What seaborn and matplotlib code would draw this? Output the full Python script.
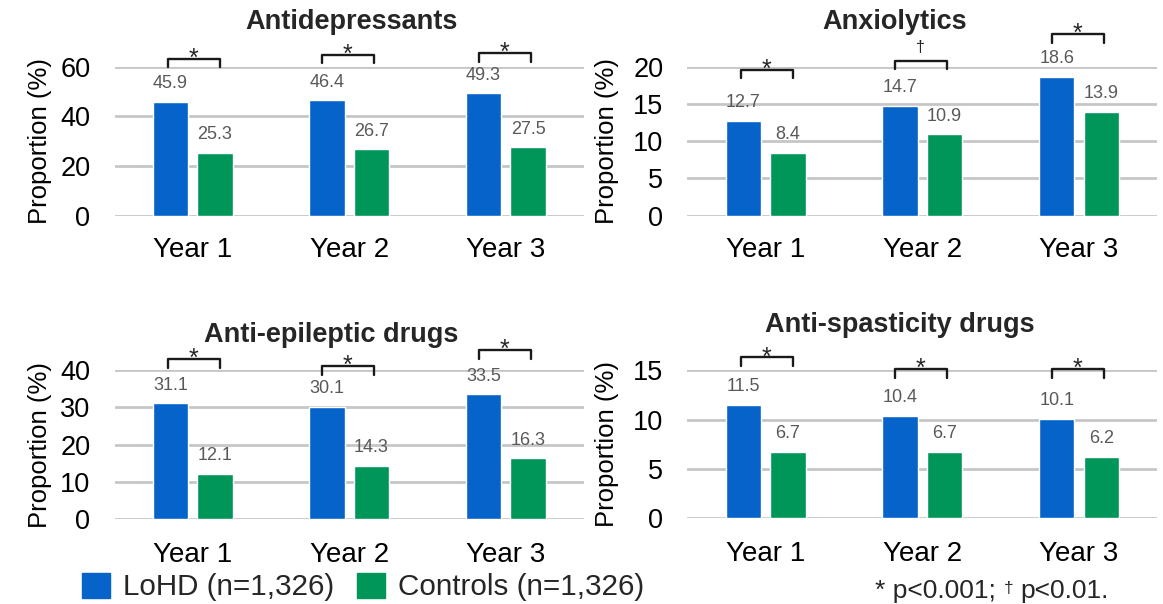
import numpy as np
import pandas as pd
import seaborn as sns
import matplotlib.pyplot as plt
import matplotlib.patches as mpatches

# data
years = ['Year 1', 'Year 2', 'Year 3']
groups = ['LoHD (n=1,326)', 'Controls (n=1,326)']
titles = ['Antidepressants', 'Anxiolytics', 'Anti-epileptic drugs', 'Anti-spasticity drugs']

lohd_antidep = [45.9, 46.4, 49.3]
ctrl_antidep = [25.3, 26.7, 27.5]
lohd_anx = [12.7, 14.7, 18.6]
ctrl_anx = [8.4, 10.9, 13.9]
lohd_epi = [31.1, 30.1, 33.5]
ctrl_epi = [12.1, 14.3, 16.3]
lohd_spas = [11.5, 10.4, 10.1]
ctrl_spas = [6.7, 6.7, 6.2]

sig_antidep = ['*', '*', '*']
sig_anx = ['*', '\u2020', '*']
sig_epi = ['*', '*', '*']
sig_spas = ['*', '*', '*']

y_max = [60, 20, 40, 15]
y_step = [20, 5, 10, 5]

# height of significance brackets (data units)
bracket_antidep = [63.2, 64.8, 65.4]
bracket_anx = [19.6, 20.8, 24.4]
bracket_epi = [43.0, 41.2, 45.5]
bracket_spas = [16.3, 15.1, 15.1]

colors = ['#0563C9', '#00965A']

sns.set_theme(style='white')
plt.rcParams['font.family'] = ['Liberation Sans', 'DejaVu Sans']

fig = plt.figure(figsize=(11.63, 6.04), dpi=100)
W, H = 1163, 604


def px_axes(left, right, y0, ytop):
    return fig.add_axes([left / W, 1 - y0 / H, (right - left) / W, (y0 - ytop) / H])


# axes, values, marks, brackets, title position (px), x tick pad, ylabel x
panels = [
    (px_axes(114.5, 584, 215.7, 66.7), lohd_antidep, ctrl_antidep, sig_antidep, bracket_antidep, (351.7, 22), 15, -0.134),
    (px_axes(687.3, 1157.3, 215.7, 66.7), lohd_anx, ctrl_anx, sig_anx, bracket_anx, (894.3, 22), 15, -0.145),
    (px_axes(114.5, 584, 519, 370.3), lohd_epi, ctrl_epi, sig_epi, bracket_epi, (331, 335), 16.5, -0.134),
    (px_axes(687.3, 1157.3, 518.3, 370.3), lohd_spas, ctrl_spas, sig_spas, bracket_spas, (900.3, 325), 16.5, -0.145),
]

br_left = [-0.158, -0.177, -0.173]
br_right = [0.173, 0.155, 0.16]

for k, (ax, lohd, ctrl, sig, brk, tpos, xpad, ylx) in enumerate(panels):
    df = pd.DataFrame({
        'year': years * 2,
        'value': lohd + ctrl,
        'group': [groups[0]] * 3 + [groups[1]] * 3,
    })
    sns.barplot(data=df, x='year', y='value', hue='group', palette=colors,
                width=0.57, gap=0.21, saturation=1, legend=False, ax=ax)

    ax.set_xlim(-0.5, 2.5)
    ax.set_ylim(0, y_max[k])
    ax.set_yticks(np.arange(0, y_max[k] + 1, y_step[k]))
    ax.grid(axis='y', color='#C6C6C6', lw=2)
    ax.set_axisbelow(True)
    sns.despine(ax=ax, left=True, bottom=True)
    ax.tick_params(axis='y', length=0, pad=17.3, labelsize=19.5, labelcolor='black')
    ax.tick_params(axis='x', length=0, pad=xpad, labelsize=20, labelcolor='black')
    ax.set_xlabel('')
    ax.set_ylabel('Proportion (%)', fontsize=18.5, color='black')
    ax.yaxis.set_label_coords(ylx, 0.5)

    for c in ax.containers:
        ax.bar_label(c, fmt='%.1f', padding=7, fontsize=13, color='#595959')

    # significance brackets
    leg = 8.7 * y_max[k] / 149
    for i, (h, mark) in enumerate(zip(brk, sig)):
        x0, x1 = i + br_left[i], i + br_right[i]
        ax.plot([x0, x0, x1, x1], [h - leg, h, h, h - leg], color='#1a1a1a',
                lw=1.7, clip_on=False)
        if mark == '*':
            ax.annotate(mark, ((x0 + x1) / 2, h), xytext=(0, -5),
                        textcoords='offset points', ha='center', va='baseline',
                        fontsize=18, annotation_clip=False)
        else:
            ax.annotate(mark, ((x0 + x1) / 2, h), xytext=(0, 6.5),
                        textcoords='offset points', ha='center', va='baseline',
                        fontsize=11.5, annotation_clip=False)

    fig.text(tpos[0] / W, 1 - tpos[1] / H, titles[k], ha='center', va='center',
             fontsize=19.5, fontweight='bold')

handles = [mpatches.Patch(color=c, label=g) for c, g in zip(colors, groups)]
fig.legend(handles=handles, loc='center left', bbox_to_anchor=(82 / W, 1 - 587 / H),
           ncol=2, frameon=False, fontsize=21.3, handlelength=0.95, handleheight=0.95,
           handletextpad=0.45, columnspacing=0.74, borderpad=0, borderaxespad=0)

fig.text(875 / W, 6 / H, '* p<0.001;', ha='left', va='baseline', fontsize=19)
fig.text(1004 / W, 11 / H, '\u2020', ha='left', va='baseline', fontsize=12.5)
fig.text(1020 / W, 6 / H, 'p<0.01.', ha='left', va='baseline', fontsize=19)

fig.savefig('out.png', dpi=100)
